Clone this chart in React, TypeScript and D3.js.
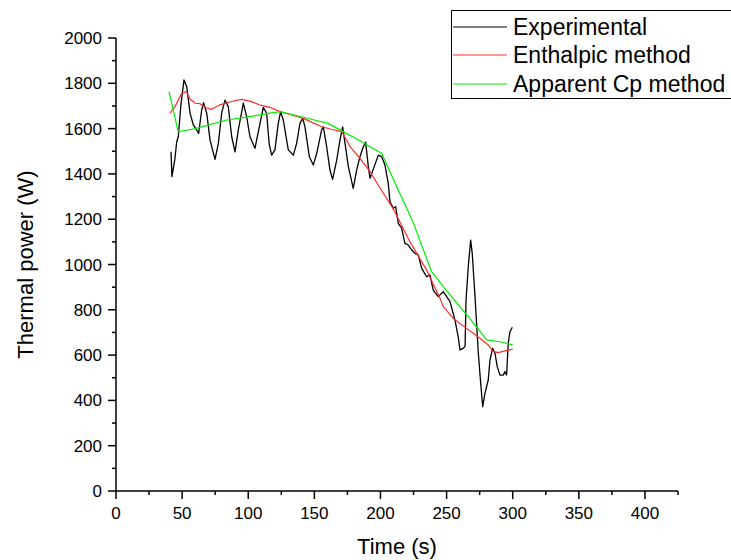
import React from "react";
import * as d3 from "d3";

const expTime = [41.6,42.3,44.6,45.9,47.1,49.0,51.4,53.5,56.0,58.5,61.0,62.5,64.8,66.2,68.6,71.1,74.9,77.4,79.9,82.4,84.9,87.5,90.0,92.5,96.3,98.8,101.3,105.1,108.9,111.4,113.9,115.9,117.7,120.2,122.7,124.5,126.5,130.3,134.1,136.6,139.1,141.2,142.9,146.2,149.2,151.8,155.5,156.8,159.3,161.8,163.8,166.9,169.4,171.4,173.2,175.7,179.4,182.0,184.5,187.0,188.8,190.8,192.1,194.5,198.4,200.9,203.4,205.9,207.2,209.7,211.5,213.5,216.0,218.5,221.0,223.6,226.1,228.6,231.2,234.9,237.4,239.9,243.7,247.5,252.6,256.3,258.8,260.1,262.6,264.0,264.7,266.4,268.2,269.4,271.5,274.0,275.8,277.3,279.0,281.5,282.8,284.8,286.6,288.3,290.4,292.9,294.1,295.4,296.6,297.9,299.7];
const expPower = [1498,1388,1469,1542,1564,1700,1815,1785,1668,1616,1594,1579,1682,1714,1668,1550,1464,1535,1668,1726,1697,1564,1497,1594,1712,1653,1564,1513,1623,1694,1668,1530,1483,1506,1623,1675,1638,1506,1483,1535,1623,1645,1608,1476,1439,1491,1594,1608,1520,1417,1376,1461,1550,1608,1535,1432,1336,1417,1476,1520,1540,1432,1381,1420,1483,1476,1439,1358,1277,1248,1255,1182,1160,1093,1086,1064,1049,1042,983,946,954,887,858,880,836,755,681,623,630,640,843,990,1108,1049,858,608,475,372,431,490,578,630,608,549,512,512,527,512,652,703,723];

const enthTime = [40.8,44.6,49.7,53.4,56.0,60.0,63.5,68.0,72.3,78.6,83.7,89.0,95.0,102.6,108.9,116.4,124.0,133.0,141.6,155.5,163.0,170.7,177.0,184.5,192.1,197.1,209.7,222.3,234.9,245.0,247.5,255.0,265.2,275.2,281.5,285.3,289.1,294.1,300.0];
const enthPower = [1668,1697,1756,1763,1730,1712,1710,1692,1685,1705,1714,1722,1729,1719,1704,1694,1675,1660,1645,1608,1597,1587,1520,1469,1410,1362,1245,1100,975,851,814,762,718,674,645,615,611,619,626];

const cpTime = [40.1,47.1,60.0,83.7,100.0,116.4,124.0,141.6,160.5,170.7,184.5,192.1,200.9,212.2,224.8,238.5,247.5,260.1,272.7,280.3,290.4,300.0];
const cpPower = [1763,1586,1600,1638,1652,1668,1675,1650,1623,1590,1546,1520,1491,1344,1185,970,902,814,725,667,659,645];

const xMajor = [0,50,100,150,200,250,300,350,400];
const xMinor = [25,75,125,175,225,275,325,375,425];
const yMajor = [0,200,400,600,800,1000,1200,1400,1600,1800,2000];
const yMinor = [100,300,500,700,900,1100,1300,1500,1700,1900];

const legendItems = ["Experimental", "Enthalpic method", "Apparent Cp method"];
const seriesColors = ["#000000", "#ff2a2a", "#00ee00"];

const FONT = "'Liberation Sans', Arial, sans-serif";

export default function App() {
  const x = d3.scaleLinear().domain([0, 425]).range([116, 678]);
  const y = d3.scaleLinear().domain([0, 2000]).range([491, 38]);

  const line = d3
    .line<[number, number]>()
    .x((d) => x(d[0]))
    .y((d) => y(d[1]));

  const zip = (a: number[], b: number[]) => a.map((v, i) => [v, b[i]] as [number, number]);
  const series = [zip(expTime, expPower), zip(enthTime, enthPower), zip(cpTime, cpPower)];
  const widths = [1.3, 1.2, 1.2];

  const legendRowY = [27, 55, 84];

  return (
    <svg
      width={731}
      height={560}
      style={{ position: "absolute", left: 0, top: 0, background: "#fff" }}
      fontFamily={FONT}
    >
      <rect x={0} y={0} width={731} height={560} fill="#fff" />
      {series.map((s, i) => (
        <path
          key={i}
          d={line(s) || ""}
          fill="none"
          stroke={seriesColors[i]}
          strokeWidth={widths[i]}
          strokeLinejoin="round"
        />
      ))}
      <line x1={x(0)} x2={x(0)} y1={y(0)} y2={y(2000)} stroke="#000" strokeWidth={1.5} />
      <line x1={x(0)} x2={x(425)} y1={y(0)} y2={y(0)} stroke="#000" strokeWidth={1.5} />
      {xMajor.map((t) => (
        <g key={"xM" + t}>
          <line x1={x(t)} x2={x(t)} y1={y(0)} y2={y(0) + 8} stroke="#000" strokeWidth={1.5} />
          <text x={x(t)} y={519} textAnchor="middle" fontSize={17} fill="#000">
            {t}
          </text>
        </g>
      ))}
      {xMinor.map((t) => (
        <line key={"xm" + t} x1={x(t)} x2={x(t)} y1={y(0)} y2={y(0) + 4} stroke="#000" strokeWidth={1.5} />
      ))}
      {yMajor.map((v) => (
        <g key={"yM" + v}>
          <line x1={x(0) - 8} x2={x(0)} y1={y(v)} y2={y(v)} stroke="#000" strokeWidth={1.5} />
          <text x={102} y={y(v) + 6} textAnchor="end" fontSize={17} fill="#000">
            {v}
          </text>
        </g>
      ))}
      {yMinor.map((v) => (
        <line key={"ym" + v} x1={x(0) - 4} x2={x(0)} y1={y(v)} y2={y(v)} stroke="#000" strokeWidth={1.5} />
      ))}
      <text x={(x(0) + x(425)) / 2} y={554} textAnchor="middle" fontSize={22} fill="#000">
        Time (s)
      </text>
      <text
        transform={`translate(33, ${(y(0) + y(2000)) / 2}) rotate(-90)`}
        textAnchor="middle"
        fontSize={22}
        fill="#000"
      >
        Thermal power (W)
      </text>
      <rect x={451.5} y={10.5} width={300} height={88} fill="#fff" stroke="#000" strokeWidth={1} />
      {legendItems.map((name, i) => (
        <g key={name}>
          <line x1={453} x2={507} y1={legendRowY[i]} y2={legendRowY[i]} stroke={seriesColors[i]} strokeWidth={1.2} />
          <text x={513} y={legendRowY[i] + 8} fontSize={23} fill="#000">
            {name}
          </text>
        </g>
      ))}
    </svg>
  );
}
